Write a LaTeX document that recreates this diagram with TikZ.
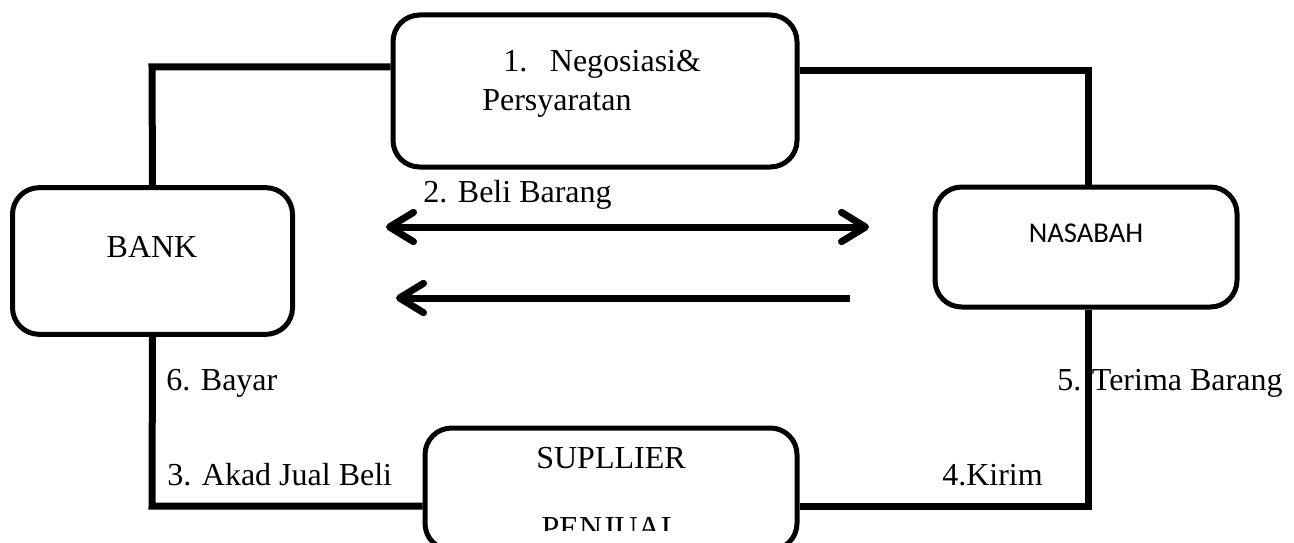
\documentclass[tikz,border=0pt]{standalone}
\usepackage{fontspec}
\setmainfont{Liberation Serif}
\newfontfamily\calibri{Carlito}
\usetikzlibrary{arrows.meta,positioning}
\begin{document}
\begin{tikzpicture}[x=0.75pt, y=-0.75pt,
    >={Straight Barb[round, length=18pt, width=22pt]},
    box/.style={draw, line width=3.75pt, rounded corners=20pt},
    wire/.style={line width=5.25pt},
    flow/.style={line width=5.25pt},
    lbl/.style={inner sep=0pt, anchor=base west, font=\fontsize{24}{29}\selectfont}]
  \clip (0,0) rectangle (1294,542);
  % Boxes
  \node[box, minimum width=303pt, minimum height=114pt] (nego) at (595,91) {};
  \node[box, minimum width=210pt, minimum height=110pt] (bank) at (152.5,261) {};
  \node[box, minimum width=226.5pt, minimum height=90pt] (nasabah) at (1086,247) {};
  \node[box, minimum width=279pt, minimum height=91.5pt] (supplier) at (611,489) {};
  % Box texts
  \node[lbl] (nego1) at (503,72) {1.\hspace{17pt}Negosiasi\&};
  \node[lbl] (nego2) at (482,110) {Persyaratan};
  \node[lbl, anchor=base] (banktxt) at (152,257) {BANK};
  \node[inner sep=0pt, anchor=base, font=\calibri\fontsize{21.5}{26}\selectfont] (nasabahtxt) at (1086,242) {NASABAH};
  \node[lbl, anchor=base] (suppliertxt) at (611,468) {SUPLLIER};
  \begin{scope}
    \clip (425,420) rectangle (797,530);
    \node[lbl, anchor=base] (penjualtxt) at (611,538) {PENJUAL};
  \end{scope}
  % Connecting lines
  \coordinate (tl) at (152,67);
  \coordinate (tr) at (1088,71);
  \coordinate (bl) at (152,506);
  \coordinate (br) at (1088,506);
  \draw[wire] (bank.north) -- (tl) -- (tl -| nego.west);
  \draw[wire] (nego.east |- tr) -- (tr) -- (tr |- nasabah.north);
  \draw[wire] (bank.south) -- (bl) -- (bl -| supplier.west);
  \draw[wire] (nasabah.south -| br) -- (br) -- (br -| supplier.east);
  % Arrows
  \coordinate (a1l) at (386,227);
  \coordinate (a1r) at (869,227);
  \coordinate (a2r) at (850,298);
  \coordinate (a2l) at (396,298);
  \draw[flow, <->] (a1l) -- (a1r);
  \draw[flow, ->] (a2r) -- (a2l);
  % Labels
  \node[lbl] (beli) at (423,202) {2. Beli Barang};
  \node[lbl] (bayar) at (166,390) {6. Bayar};
  \node[lbl] (terima) at (1057,390) {5. Terima Barang};
  \node[lbl] (akad) at (167,485) {3. Akad Jual Beli};
  \node[lbl] (kirim) at (942,485) {4.Kirim};
\end{tikzpicture}
\end{document}
